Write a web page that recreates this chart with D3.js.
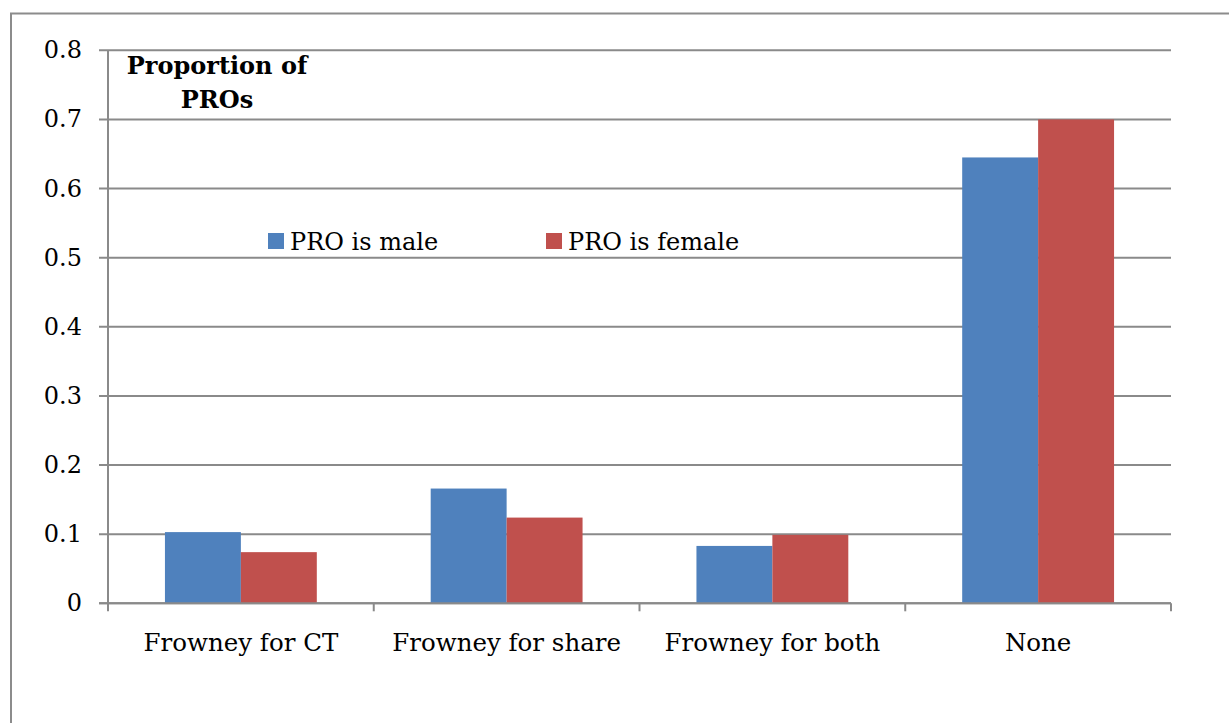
<!DOCTYPE html>
<html>
<head>
<meta charset="utf-8">
<script src="https://cdn.jsdelivr.net/npm/d3@7"></script>
<style>
  body { margin: 0; background: #fff; }
  text { font-family: "DejaVu Serif", serif; fill: #000; }
</style>
</head>
<body>
<div id="chart"></div>
<script>
// data
var categories = ["Frowney for CT", "Frowney for share", "Frowney for both", "None"];
var seriesNames = ["PRO is male", "PRO is female"];
var maleValues = [0.103, 0.166, 0.083, 0.645];
var femaleValues = [0.074, 0.124, 0.099, 0.700];
var yTicks = [0, 0.1, 0.2, 0.3, 0.4, 0.5, 0.6, 0.7, 0.8];
var colors = ["#4f81bd", "#c0504d"];

var W = 1229, H = 723;
var plotLeft = 108, plotRight = 1171, plotTop = 50.3, plotBottom = 603.3;

var svg = d3.select("#chart").append("svg")
    .attr("width", W)
    .attr("height", H);

// outer chart border
svg.append("rect")
    .attr("x", 11).attr("y", 13.5)
    .attr("width", W + 20).attr("height", H + 20)
    .attr("fill", "none")
    .attr("stroke", "#8c8c8c")
    .attr("stroke-width", 2);

var x = d3.scaleBand().domain(categories).range([plotLeft, plotRight]);
var x1 = d3.scaleBand().domain(seriesNames).range([0, x.bandwidth()]).paddingOuter(0.75).paddingInner(0);
var y = d3.scaleLinear().domain([0, 0.8]).range([plotBottom, plotTop]);

// gridlines
svg.append("g").selectAll("line")
    .data(yTicks)
    .enter().append("line")
    .attr("x1", plotLeft - 9).attr("x2", plotRight)
    .attr("y1", function (d) { return y(d); })
    .attr("y2", function (d) { return y(d); })
    .attr("stroke", "#8a8a8a")
    .attr("stroke-width", 2);

// y axis line
svg.append("line")
    .attr("x1", plotLeft).attr("x2", plotLeft)
    .attr("y1", plotTop).attr("y2", plotBottom + 8)
    .attr("stroke", "#8a8a8a").attr("stroke-width", 2);

// category ticks
svg.append("g").selectAll("line")
    .data(categories)
    .enter().append("line")
    .attr("x1", function (d) { return x(d) + x.step(); })
    .attr("x2", function (d) { return x(d) + x.step(); })
    .attr("y1", plotBottom).attr("y2", plotBottom + 8)
    .attr("stroke", "#8a8a8a").attr("stroke-width", 2);

// y tick labels
svg.append("g").selectAll("text")
    .data(yTicks)
    .enter().append("text")
    .attr("x", 82)
    .attr("y", function (d) { return y(d) + 8; })
    .attr("text-anchor", "end")
    .style("font-size", "24px")
    .text(function (d) { return d === 0 ? "0" : d3.format(".1f")(d); });

// bars
var rows = categories.map(function (c, i) {
    return { cat: c, vals: [maleValues[i], femaleValues[i]] };
});
var groups = svg.append("g").selectAll("g")
    .data(rows)
    .enter().append("g")
    .attr("transform", function (d) { return "translate(" + x(d.cat) + ",0)"; });

groups.selectAll("rect")
    .data(function (d) { return d.vals.map(function (v, j) { return { name: seriesNames[j], v: v, j: j }; }); })
    .enter().append("rect")
    .attr("x", function (d) { return x1(d.name); })
    .attr("width", x1.bandwidth())
    .attr("y", function (d) { return y(d.v); })
    .attr("height", function (d) { return y(0) - y(d.v); })
    .attr("fill", function (d) { return colors[d.j]; });

// redraw baseline over bars
svg.append("line")
    .attr("x1", plotLeft - 9).attr("x2", plotRight)
    .attr("y1", y(0)).attr("y2", y(0))
    .attr("stroke", "#8a8a8a").attr("stroke-width", 2);

// category labels
svg.append("g").selectAll("text")
    .data(categories)
    .enter().append("text")
    .attr("x", function (d) { return x(d) + x.bandwidth() / 2; })
    .attr("y", 651)
    .attr("text-anchor", "middle")
    .style("font-size", "24.5px")
    .text(function (d) { return d; });

// axis title
var title = svg.append("text")
    .attr("text-anchor", "middle")
    .style("font-size", "24px")
    .style("font-weight", "bold");
title.append("tspan").attr("x", 217).attr("y", 74).text("Proportion of");
title.append("tspan").attr("x", 217).attr("y", 108).text("PROs");

// legend
var legendX = [268, 546];
var legend = svg.append("g").selectAll("g")
    .data(seriesNames)
    .enter().append("g");
legend.append("rect")
    .attr("x", function (d, i) { return legendX[i]; })
    .attr("y", 233)
    .attr("width", 16).attr("height", 16)
    .attr("fill", function (d, i) { return colors[i]; });
legend.append("text")
    .attr("x", function (d, i) { return legendX[i] + 22; })
    .attr("y", 250)
    .style("font-size", "24px")
    .text(function (d) { return d; });
</script>
</body>
</html>
